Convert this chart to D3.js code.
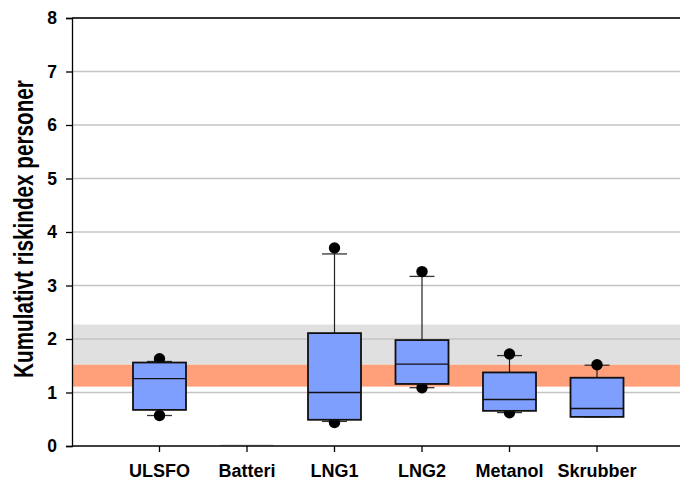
<!DOCTYPE html>
<html>
<head>
<meta charset="utf-8">
<script src="https://cdn.jsdelivr.net/npm/d3@7"></script>
<style>
  html, body { margin: 0; padding: 0; background: #fff; }
  svg { display: block; }
  text { font-family: "Liberation Sans", Arial, sans-serif; font-weight: bold; fill: #000; }
</style>
</head>
<body>
<svg id="chart" width="680" height="483"></svg>
<script>
// ---- data ----
const categories   = ["ULSFO", "Batteri", "LNG1", "LNG2", "Metanol", "Skrubber"];
const q1           = [0.675, 0, 0.49, 1.16, 0.657, 0.544];
const medians      = [1.26,  0, 1.00, 1.53, 0.87,  0.70];
const q3           = [1.56,  0, 2.11, 1.98, 1.375, 1.276];
const whiskerLow   = [0.57,  0, 0.46, 1.09, 0.625, 0.544];
const whiskerHigh  = [1.58,  0, 3.59, 3.17, 1.69,  1.51];
const outliers     = [[1.63, 0.57], [], [3.70, 0.44], [3.26, 1.09], [1.72, 0.62], [1.52]];
const yTicks       = [0, 1, 2, 3, 4, 5, 6, 7, 8];
const grayBand     = [1.52, 2.27];
const salmonBand   = [1.11, 1.52];
const yTitle       = "Kumulativt riskindex personer";

(function () {
// ---- layout ----
const svg = d3.select("#chart");
const pLeft = 72, pRight = 684.5, pTop = 18, pBottom = 446;
const x = d3.scaleLinear().domain([0, categories.length + 1]).range([pLeft, pRight]);
const y = d3.scaleLinear().domain([0, 8]).range([pBottom, pTop]);
const boxW = 53, capW = 25, dotR = 5.7;

// bands
svg.append("rect")
  .attr("x", pLeft).attr("width", pRight - pLeft)
  .attr("y", y(grayBand[1])).attr("height", y(grayBand[0]) - y(grayBand[1]))
  .attr("fill", "#e0e0e0");
svg.append("rect")
  .attr("x", pLeft).attr("width", pRight - pLeft)
  .attr("y", y(salmonBand[1])).attr("height", y(salmonBand[0]) - y(salmonBand[1]))
  .attr("fill", "#ffa07a");

// gridlines
svg.append("g").selectAll("line").data(yTicks.filter(d => d > 0)).join("line")
  .attr("x1", pLeft).attr("x2", pRight)
  .attr("y1", d => y(d)).attr("y2", d => y(d))
  .attr("stroke", "#c4c4c4").attr("stroke-width", 1.4);

// top frame
svg.append("line")
  .attr("x1", pLeft).attr("x2", pRight)
  .attr("y1", y(8)).attr("y2", y(8))
  .attr("stroke", "#000").attr("stroke-width", 1.3);

// boxes
const data = categories.map((c, i) => ({
  c, i, q1: q1[i], med: medians[i], q3: q3[i],
  lo: whiskerLow[i], hi: whiskerHigh[i], out: outliers[i]
}));

const g = svg.append("g");
data.forEach(d => {
  const cx = x(d.i + 1);
  if (d.q3 === d.q1) {
    g.append("line")
      .attr("x1", cx - boxW / 2).attr("x2", cx + boxW / 2)
      .attr("y1", y(d.q1) - 0.8).attr("y2", y(d.q1) - 0.8)
      .attr("stroke", "#d0d0d0").attr("stroke-width", 1.5);
    return;
  }
  if (d.hi > d.q3) {
    g.append("line").attr("x1", cx).attr("x2", cx)
      .attr("y1", y(d.q3)).attr("y2", y(d.hi))
      .attr("stroke", "#222").attr("stroke-width", 1.2);
  }
  if (d.lo < d.q1) {
    g.append("line").attr("x1", cx).attr("x2", cx)
      .attr("y1", y(d.q1)).attr("y2", y(d.lo))
      .attr("stroke", "#222").attr("stroke-width", 1.2);
  }
  [d.hi, d.lo].forEach(v => {
    g.append("line")
      .attr("x1", cx - capW / 2).attr("x2", cx + capW / 2)
      .attr("y1", y(v)).attr("y2", y(v))
      .attr("stroke", "#333").attr("stroke-width", 1.3);
  });
  d.out.forEach(v => {
    g.append("circle").attr("cx", cx).attr("cy", y(v)).attr("r", dotR).attr("fill", "#000");
  });
  g.append("rect")
    .attr("x", cx - boxW / 2).attr("width", boxW)
    .attr("y", y(d.q3)).attr("height", y(d.q1) - y(d.q3))
    .attr("fill", "#7f9fff").attr("stroke", "#111").attr("stroke-width", 1.8);
  g.append("line")
    .attr("x1", cx - boxW / 2).attr("x2", cx + boxW / 2)
    .attr("y1", y(d.med)).attr("y2", y(d.med))
    .attr("stroke", "#111").attr("stroke-width", 1.4);
});

// y axis
const yAxis = svg.append("g").attr("transform", `translate(${pLeft},0)`)
  .call(d3.axisLeft(y).tickValues(yTicks).tickFormat(d3.format("d")).tickSize(6).tickPadding(9));
yAxis.select(".domain").attr("stroke", "#000").attr("stroke-width", 1.3);
yAxis.selectAll(".tick line").attr("stroke", "#000").attr("stroke-width", 1.3);
yAxis.selectAll("text").style("font-size", "17.5px").style("font-weight", "bold")
  .style("font-family", '"Liberation Sans", Arial, sans-serif').attr("fill", "#000");

// x axis
svg.append("line")
  .attr("x1", pLeft).attr("x2", pRight)
  .attr("y1", pBottom).attr("y2", pBottom)
  .attr("stroke", "#000").attr("stroke-width", 1.3);
svg.append("g").selectAll("line").data(categories).join("line")
  .attr("x1", (d, i) => x(i + 1)).attr("x2", (d, i) => x(i + 1))
  .attr("y1", pBottom).attr("y2", pBottom + 6)
  .attr("stroke", "#000").attr("stroke-width", 1.3);
svg.append("g").selectAll("text").data(categories).join("text")
  .attr("x", (d, i) => x(i + 1)).attr("y", pBottom + 31)
  .attr("text-anchor", "middle")
  .style("font-size", "18px")
  .text(d => d);

// y title (rotated; glyphs appear stretched across in the reference)
svg.append("text")
  .attr("transform", `translate(33,229) rotate(-90) scale(1,1.3)`)
  .attr("text-anchor", "middle")
  .style("font-size", "20.7px")
  .text(yTitle);
})();
</script>
</body>
</html>
